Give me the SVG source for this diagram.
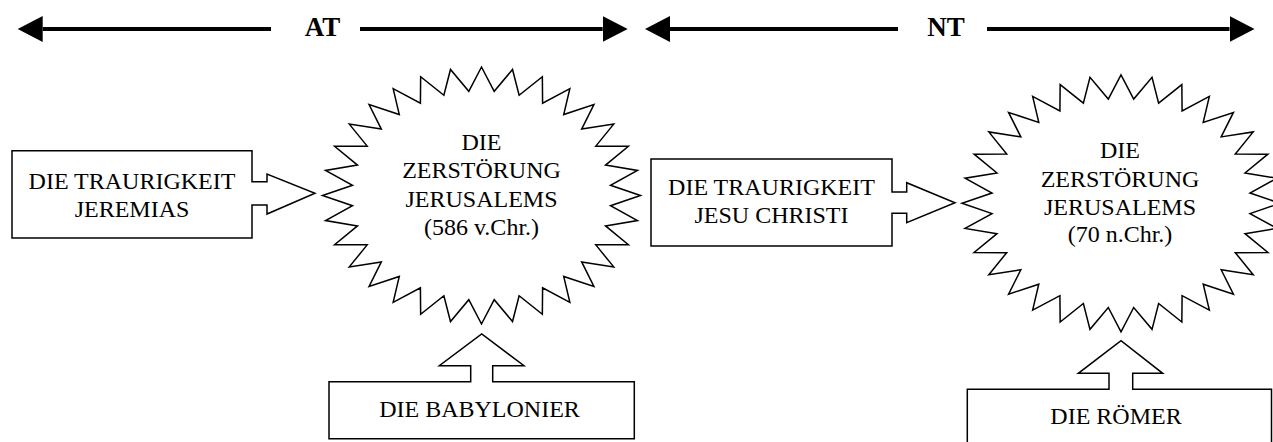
<svg xmlns="http://www.w3.org/2000/svg" xmlns:xlink="http://www.w3.org/1999/xlink" width="1273" height="442" viewBox="0 0 1273 442">
<style>
.shape{fill:#fff;stroke:#000;stroke-width:1.5;stroke-linejoin:miter}
.lbl{font-family:'Liberation Serif','Times New Roman',serif;font-size:24px;fill:#000;text-anchor:middle}
.hdr{font-family:'Liberation Serif','Times New Roman',serif;font-size:27px;font-weight:bold;fill:#000;text-anchor:middle}
.era{stroke:#000;stroke-width:4;fill:none}
</style>
<defs>
<marker id="ah" markerUnits="userSpaceOnUse" markerWidth="26" markerHeight="27" refX="0" refY="13" orient="auto-start-reverse" viewBox="0 0 26 27">
<path d="M0,0 L25,13 L0,26 Z" fill="#000"/>
</marker>
<polygon id="star" points="159,0 128.98,-10.26 155.95,-25.07 124.02,-30.39 146.9,-49.17 114.3,-49.36 132.2,-71.39 100.18,-66.42 112.43,-90.86 82.22,-80.93 88.34,-106.84 61.09,-92.34 60.85,-118.72 37.62,-100.19 31.02,-126.03 12.7,-104.2 0,-128.5 -12.7,-104.2 -31.02,-126.03 -37.62,-100.19 -60.85,-118.72 -61.09,-92.34 -88.34,-106.84 -82.22,-80.93 -112.43,-90.86 -100.18,-66.42 -132.2,-71.39 -114.3,-49.36 -146.9,-49.17 -124.02,-30.39 -155.95,-25.07 -128.98,-10.26 -159,0 -128.98,10.26 -155.95,25.07 -124.02,30.39 -146.9,49.17 -114.3,49.36 -132.2,71.39 -100.18,66.42 -112.43,90.86 -82.22,80.93 -88.34,106.84 -61.09,92.34 -60.85,118.72 -37.62,100.19 -31.02,126.03 -12.7,104.2 0,128.5 12.7,104.2 31.02,126.03 37.62,100.19 60.85,118.72 61.09,92.34 88.34,106.84 82.22,80.93 112.43,90.86 100.18,66.42 132.2,71.39 114.3,49.36 146.9,49.17 124.02,30.39 155.95,25.07 128.98,10.26"/>
</defs>

<g id="connectors">
<line class="era" x1="42.7" y1="29" x2="271" y2="29" marker-start="url(#ah)"/>
<line class="era" x1="360" y1="29" x2="602.7" y2="29" marker-end="url(#ah)"/>
<line class="era" x1="670" y1="29" x2="898" y2="29" marker-start="url(#ah)"/>
<line class="era" x1="987" y1="29" x2="1229.5" y2="29" marker-end="url(#ah)"/>
</g>

<g id="label-at"><text class="hdr" x="322.5" y="36">AT</text></g>
<g id="label-nt"><text class="hdr" x="946" y="36">NT</text></g>

<g id="jeremias">
<path class="shape" d="M12,150.7 H252 V181.7 H267 V174 L315,193.3 L267,214 V205 H252 V238 H12 Z"/>
<text class="lbl" x="132" y="189.3">DIE TRAURIGKEIT</text>
<text class="lbl" x="132" y="216.7">JEREMIAS</text>
</g>

<g id="zerstoerung-586">
<use xlink:href="#star" href="#star" class="shape" transform="translate(481.5,195.5)"/>
<text class="lbl" x="481.5" y="150">DIE</text>
<text class="lbl" x="481.5" y="178">ZERSTÖRUNG</text>
<text class="lbl" x="481.5" y="207">JERUSALEMS</text>
<text class="lbl" x="481.5" y="235">(586 v.Chr.)</text>
</g>

<g id="jesus">
<path class="shape" d="M651,159 H892 V192 H906.7 V182.7 L955,202.7 L906.7,222.7 V213.3 H892 V246 H651 Z"/>
<text class="lbl" x="771.5" y="195">DIE TRAURIGKEIT</text>
<text class="lbl" x="771.5" y="223.3">JESU CHRISTI</text>
</g>

<g id="zerstoerung-70">
<use xlink:href="#star" href="#star" class="shape" transform="translate(1121,203.3)"/>
<text class="lbl" x="1120" y="158">DIE</text>
<text class="lbl" x="1120" y="186.5">ZERSTÖRUNG</text>
<text class="lbl" x="1120" y="215">JERUSALEMS</text>
<text class="lbl" x="1120" y="242">(70 n.Chr.)</text>
</g>

<g id="babylonier">
<path class="shape" d="M329,438.7 V381.7 H470.7 V365.7 H439.3 L481.7,334 L524,365.7 H492.7 V381.7 H634.3 V438.7 Z"/>
<text class="lbl" x="479.5" y="416.7">DIE BABYLONIER</text>
</g>

<g id="roemer">
<path class="shape" d="M967.3,452 V389.3 H1109 V373.3 H1078.3 L1121,340.7 L1162.7,373.3 H1132.7 V389.3 H1271.5 V452 Z"/>
<text class="lbl" x="1116" y="424">DIE RÖMER</text>
</g>
</svg>
